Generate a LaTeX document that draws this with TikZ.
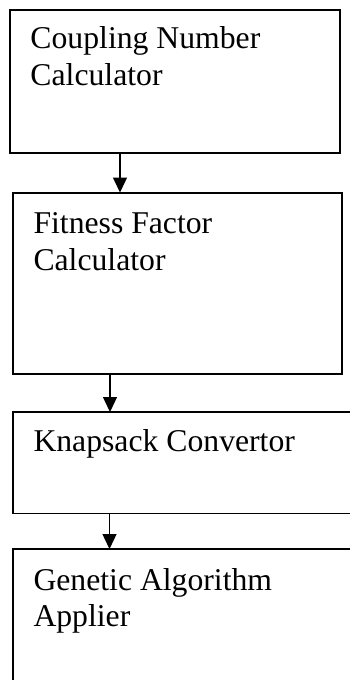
\documentclass[tikz,border=0pt]{standalone}
\usepackage{fontspec}
\setmainfont{Liberation Serif}
\usetikzlibrary{arrows.meta}
\tikzset{
  box/.style={draw=black, line width=2pt, rectangle, inner sep=0pt, outer sep=0pt, anchor=north west},
  openbox/.style={box, line width=1.7pt},
  label/.style={anchor=base west, inner sep=0pt, outer sep=0pt, font=\fontsize{31.7}{37}\selectfont},
  flow/.style={draw=black, line width=1.4pt, -{Triangle[length=15pt, width=14pt]}}
}
\begin{document}
\begin{tikzpicture}[x=1pt, y=-1pt]
  \clip (0,0) rectangle (350,680);
  \fill[white] (0,0) rectangle (350,680);

  % the four stages of the pipeline
  \node[box, minimum width=329.5pt, minimum height=143pt] (calc) at (10,9.5) {};
  \node[box, minimum width=329pt, minimum height=181.5pt] (fit) at (13,192.5) {};
  \node[openbox, minimum width=345pt, minimum height=101.5pt] (knap) at (13,412) {};
  \node[openbox, minimum width=345pt, minimum height=200pt] (gen) at (13,549) {};

  % stage captions
  \node[label] (calcA) at (30.5,48) {Coupling Number};
  \node[label] (calcB) at (30.5,85) {Calculator};
  \node[label] (fitA) at (33.5,233) {Fitness Factor};
  \node[label] (fitB) at (33.5,270) {Calculator};
  \node[label] (knapA) at (33.5,451.7) {Knapsack Convertor};
  \node[label] (genA) at (33.5,590.7) {Genetic Algorithm};
  \node[label] (genB) at (33.5,626.7) {Applier};

  % connectors between consecutive stages
  \draw[flow] (calc.south -| 120,0) -- (fit.north -| 120,0);
  \draw[flow] (fit.south -| 110,0) -- (knap.north -| 110,0);
  \draw[flow] (knap.south -| 109.5,0) -- (gen.north -| 109.5,0);
\end{tikzpicture}
\end{document}
